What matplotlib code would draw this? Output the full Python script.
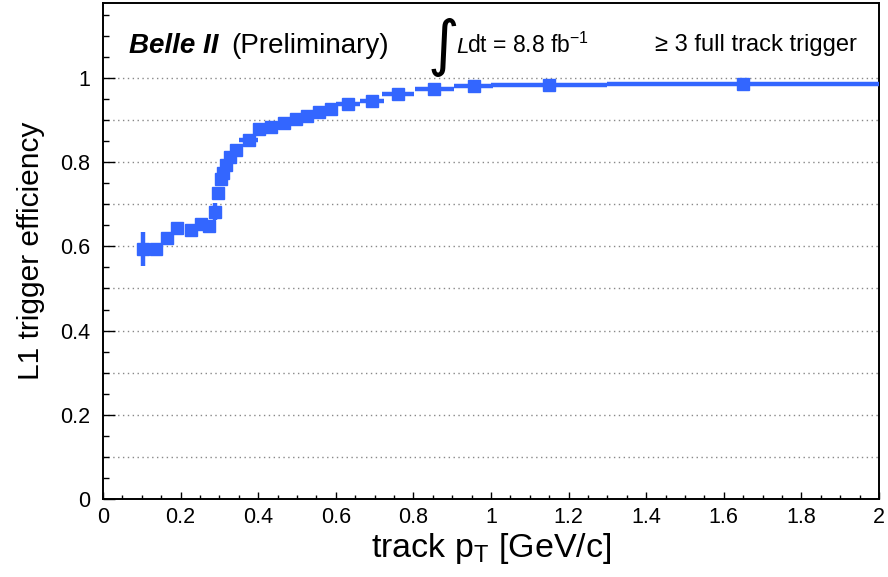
import numpy as np
import matplotlib
matplotlib.use('Agg')
import matplotlib.pyplot as plt
from matplotlib.ticker import MultipleLocator

plt.rcParams['font.family'] = ['Liberation Sans', 'DejaVu Sans']

# Efficiency vs track pT (bin centre, half width, efficiency, error)
pt = [0.103, 0.137, 0.165, 0.190, 0.227, 0.253, 0.272, 0.289, 0.297, 0.304,
      0.310, 0.317, 0.328, 0.342, 0.375, 0.403, 0.433, 0.467, 0.498, 0.527,
      0.557, 0.588, 0.632, 0.694, 0.761, 0.854, 0.955, 1.150, 1.650]
pt_err = [0.012, 0.012, 0.010, 0.014, 0.012, 0.010, 0.008, 0.005, 0.004, 0.003,
          0.003, 0.004, 0.006, 0.008, 0.024, 0.008, 0.024, 0.015, 0.015, 0.015,
          0.015, 0.015, 0.031, 0.031, 0.041, 0.050, 0.050, 0.150, 0.350]
eff = [0.594, 0.594, 0.620, 0.644, 0.639, 0.653, 0.648, 0.682, 0.727, 0.760,
       0.774, 0.793, 0.812, 0.830, 0.853, 0.879, 0.884, 0.893, 0.903, 0.910,
       0.919, 0.926, 0.937, 0.946, 0.962, 0.974, 0.981, 0.983, 0.986]
eff_err = [0.040, 0.013, 0.008, 0.006, 0.006, 0.006, 0.006, 0.020, 0.012, 0.008,
           0.008, 0.007, 0.006, 0.005, 0.004, 0.004, 0.004, 0.004, 0.004, 0.003,
           0.003, 0.003, 0.003, 0.003, 0.002, 0.002, 0.002, 0.002, 0.002]

W, H = 888, 577
fig = plt.figure(figsize=(W / 100, H / 100), dpi=100)
ax = fig.add_axes([103 / W, 1 - 499 / H, 776 / W, 496 / H])

blue = '#3366ff'
ax.errorbar(pt, eff, xerr=pt_err, yerr=eff_err, fmt='s', color=blue,
            ms=8, elinewidth=3.2, capsize=0, zorder=3)

ax.set_xlim(0, 2)
ax.set_ylim(0, 1.178)

# dotted horizontal grid every 0.1
for g in np.arange(0.1, 1.05, 0.1):
    ax.axhline(g, color='#888888', lw=1, ls=(0, (1, 2.5)), zorder=1)

ax.xaxis.set_minor_locator(MultipleLocator(0.05))
ax.yaxis.set_minor_locator(MultipleLocator(0.05))
ax.set_xticks([0, 0.2, 0.4, 0.6, 0.8, 1, 1.2, 1.4, 1.6, 1.8, 2])
ax.set_xticklabels(['0', '0.2', '0.4', '0.6', '0.8', '1', '1.2', '1.4', '1.6', '1.8', '2'])
ax.set_yticks([0, 0.2, 0.4, 0.6, 0.8, 1])
ax.set_yticklabels(['0', '0.2', '0.4', '0.6', '0.8', '1'])

ax.tick_params(axis='both', which='both', direction='in', labelsize=15.5, width=1)
ax.tick_params(axis='x', which='major', length=5, pad=6)
ax.tick_params(axis='x', which='minor', length=3)
ax.tick_params(axis='y', which='major', length=8.5, pad=9)
ax.tick_params(axis='y', which='minor', length=4.3)
for s in ax.spines.values():
    s.set_linewidth(1.4)

ax.set_xlabel(r'track p$_{\mathregular{T}}$ [GeV/c]', fontsize=24.5, labelpad=2)
ax.set_ylabel('L1 trigger efficiency', fontsize=21.5, labelpad=11)


def fx(x):
    return x / W


def fy(y):
    return 1 - y / H


fig.text(fx(129), fy(53), 'Belle II', fontsize=20, fontweight='bold',
         fontstyle='italic', va='baseline')
fig.text(fx(231), fy(53), '(Preliminary)', fontsize=20, va='baseline')
fig.text(fx(427), fy(64), r'$\int$', fontsize=31, va='baseline')
fig.text(fx(456), fy(53), 'L', fontsize=16, fontstyle='italic', va='baseline')
fig.text(fx(467), fy(53), r'dt = 8.8 fb$^{\mathregular{-1}}$', fontsize=16.5, va='baseline')
fig.text(fx(655), fy(51), '≥ 3 full track trigger', fontsize=17, va='baseline')

fig.savefig('out.png', dpi=100)
